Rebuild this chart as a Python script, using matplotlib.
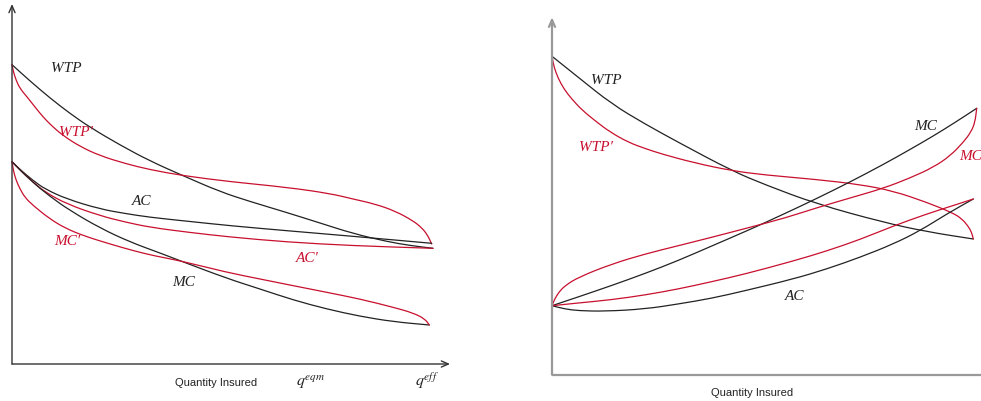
import matplotlib
matplotlib.use("Agg")
import matplotlib.pyplot as plt
from matplotlib.path import Path
from matplotlib.patches import PathPatch

plt.rcParams['mathtext.fontset'] = 'stix'

# ---------------- data: left panel (quantity, price in arbitrary units) ----------------
L_wtp_q = [0, 18, 38, 58, 78, 108, 138, 171, 208, 238, 274.7, 308, 341, 374.7, 398, 421]
L_wtp_p = [299.3, 283, 266, 250.5, 236.7, 219, 203, 188.3, 172.3, 162.5, 151.5, 141, 130.5, 122.5, 118.5, 115.7]

L_wtp2_q = [0, 1.5, 4, 8, 14.7, 23, 31.3, 41, 51.3, 68, 88, 113, 138, 171.3, 218, 274.7, 318, 341, 363, 383, 401, 410, 415.5, 419.7]
L_wtp2_p = [299.3, 292, 284, 275.5, 267.5, 257, 246.7, 237, 228.3, 217.5, 208.3, 200.5, 194.3, 188.3, 182.3, 176.7, 170.5, 165, 160, 153, 143.3, 136, 129, 120]

L_ac_q = [0, 8, 21.3, 33, 54.7, 88, 113, 138, 178, 218, 274.7, 341, 419.7]
L_ac_p = [202.3, 194.5, 183.3, 175, 165, 155, 150.5, 146.7, 142.5, 138.3, 133.3, 127.7, 120.7]

L_ac2_q = [0, 8, 21.3, 33, 54.7, 88, 113, 138, 178, 218, 274.7, 341, 421]
L_ac2_p = [202.3, 194, 181.7, 172, 160, 148.3, 142, 136.7, 131.5, 127, 122, 118.3, 115.7]

L_mc_q = [0, 18, 38, 58, 88, 118, 148, 168, 214.7, 248, 281.3, 314.7, 348, 381.3, 417.3]
L_mc_p = [202.3, 184, 167.5, 153.5, 136, 122, 111, 103.3, 85.7, 75, 64, 55, 47.7, 42.3, 39]

L_mc2_q = [0, 1.5, 4, 8, 13, 21.3, 38, 53, 71.3, 98, 121.3, 143, 168, 214.7, 248, 281.3, 314.7, 348, 381.3, 401.3, 413, 417.3]
L_mc2_p = [202.3, 193, 184, 175, 166.5, 158.3, 145, 136, 128.3, 120, 113.3, 108, 103.3, 91.7, 85, 78.3, 71.7, 65, 56.7, 51, 45, 39]

# ---------------- data: right panel ----------------
R_wtp_q = [0, 26.3, 59.7, 93, 126.3, 179.7, 213, 264.7, 331.3, 374.7, 421.3]
R_wtp_p = [318.4, 297.4, 270.7, 250.7, 232.4, 204, 190, 170.7, 152.4, 143, 135.7]

R_wtp2_q = [0, 2, 6, 12, 19.7, 30, 43, 58, 76.3, 93, 109.7, 143, 179.7, 213, 264.7, 308, 341.3, 374.7, 401, 410, 416, 419.5, 421.3]
R_wtp2_p = [318.4, 307.7, 296.7, 285.7, 275.7, 264.7, 254, 242.7, 232.4, 226.2, 220.7, 211.7, 204, 199.7, 195.2, 190.2, 183.7, 172.4, 161.7, 155.7, 148.7, 142.7, 135.7]

R_mc_q = [0, 26, 59.7, 93, 126.3, 159.7, 198, 233, 264.7, 298, 331.3, 358, 381.3, 403, 424.7]
R_mc_p = [69, 77.7, 89.2, 101.2, 114.2, 128.7, 145.2, 161.2, 176.2, 192.7, 210.2, 225.2, 238.7, 252.2, 266.4]

R_mc2_q = [0, 2.7, 7, 13, 26.3, 59.7, 93, 126.3, 159.7, 198, 233, 264.7, 298, 331.3, 358, 381.3, 398, 411.3, 419, 423, 424.7]
R_mc2_p = [69, 75.7, 82.7, 89, 97.4, 110.7, 120.7, 129, 137.4, 147.4, 156.7, 166.9, 176.7, 186.4, 196.7, 207.4, 218.7, 232.4, 242.7, 252.4, 266.4]

R_ac_q = [0, 13, 26.3, 53, 93, 126.3, 159.7, 193, 241.3, 274.7, 308, 341.3, 368, 394.7, 421.3]
R_ac_p = [69, 65.7, 64, 63.4, 65.7, 70.7, 76.4, 84, 95.7, 105.7, 117.4, 130.7, 144, 160.7, 175.7]

R_ac2_q = [0, 26.3, 59.7, 93, 126.3, 159.7, 193, 241.3, 274.7, 308, 341.3, 374.7, 401.3, 421.3]
R_ac2_p = [69, 71.7, 75, 79.7, 85.7, 93, 100.7, 113.7, 123.7, 135.2, 148.7, 160.7, 169.2, 175.7]

BLACK = '#222222'
RED = '#c8102e'
LW = 0.9


def smooth_curve(ax, q, p, color):
    """Draw a smooth (quadratic B-spline style) path through the read points."""
    pts = list(zip(q, p))
    verts = [pts[0]]
    codes = [Path.MOVETO]
    if len(pts) > 2:
        m = ((pts[0][0] + pts[1][0]) / 2, (pts[0][1] + pts[1][1]) / 2)
        verts.append(m); codes.append(Path.LINETO)
        for i in range(1, len(pts) - 1):
            nm = ((pts[i][0] + pts[i + 1][0]) / 2, (pts[i][1] + pts[i + 1][1]) / 2)
            verts += [pts[i], nm]
            codes += [Path.CURVE3, Path.CURVE3]
    verts.append(pts[-1]); codes.append(Path.LINETO)
    patch = PathPatch(Path(verts, codes), facecolor='none', edgecolor=color, lw=LW,
                      joinstyle='round', capstyle='round', clip_on=False)
    ax.add_patch(patch)


W, H = 981, 402
fig = plt.figure(figsize=(W / 100, H / 100), dpi=100)
fig.patch.set_facecolor('white')

axL = fig.add_axes([12 / W, (H - 365) / H, 440 / W, 361 / H])
axR = fig.add_axes([552 / W, (H - 375.7) / H, 429 / W, 357.7 / H])
axL.set_xlim(0, 440); axL.set_ylim(0, 361)
axR.set_xlim(0, 429); axR.set_ylim(0, 357.7)
for ax in (axL, axR):
    ax.set_axis_off()

arrow = '->,head_length=0.5,head_width=0.22'
axL.annotate('', xy=(438, 0), xytext=(0, 0),
             arrowprops=dict(arrowstyle=arrow, color='#333333', lw=1.0, shrinkA=0, shrinkB=0),
             annotation_clip=False)
axL.annotate('', xy=(0, 360), xytext=(0, 0),
             arrowprops=dict(arrowstyle=arrow, color='#333333', lw=1.0, shrinkA=0, shrinkB=0),
             annotation_clip=False)
axR.plot([0, 1], [0, 0], transform=axR.transAxes, color='#999999', lw=1.6, clip_on=False,
         solid_capstyle='butt')
axR.annotate('', xy=(0, 357.5), xytext=(0, 0),
             arrowprops=dict(arrowstyle=arrow, color='#999999', lw=1.6, shrinkA=0, shrinkB=0),
             annotation_clip=False)

for q, p, c in [(L_wtp_q, L_wtp_p, BLACK), (L_wtp2_q, L_wtp2_p, RED),
                (L_ac_q, L_ac_p, BLACK), (L_ac2_q, L_ac2_p, RED),
                (L_mc_q, L_mc_p, BLACK), (L_mc2_q, L_mc2_p, RED)]:
    smooth_curve(axL, q, p, c)

for q, p, c in [(R_wtp_q, R_wtp_p, BLACK), (R_wtp2_q, R_wtp2_p, RED),
                (R_mc_q, R_mc_p, BLACK), (R_mc2_q, R_mc2_p, RED),
                (R_ac_q, R_ac_p, BLACK), (R_ac2_q, R_ac2_p, RED)]:
    smooth_curve(axR, q, p, c)

serif = dict(family=['Liberation Serif', 'DejaVu Serif'], style='italic', fontsize=11,
             ha='center', va='center')

axL.text(54, 297, 'WTP', color=BLACK, **serif)
axL.text(64, 232, 'WTP′', color=RED, **serif)
axL.text(130, 163, 'AC', color=BLACK, **serif)
axL.text(55, 123, 'MC′', color=RED, **serif)
axL.text(295, 107, 'AC′', color=RED, **serif)
axL.text(172, 83, 'MC', color=BLACK, **serif)

axR.text(54, 294.7, 'WTP', color=BLACK, **serif)
axR.text(44, 227.7, 'WTP′', color=RED, **serif)
axR.text(374, 248.7, 'MC', color=BLACK, **serif)
axR.text(419, 218.7, 'MC', color=RED, clip_on=False, **serif)
axR.text(243, 78.7, 'AC', color=BLACK, **serif)

sans = dict(family=['Liberation Sans', 'DejaVu Sans'], fontsize=8, ha='center', va='center',
            color='#222222')
axL.text(203.7, -17.7, 'Quantity Insured', **sans)
axR.text(200.5, -17.3, 'Quantity Insured', **sans)

axL.text(299, -17, '$q^{eqm}$', fontsize=11.5, ha='center', va='center', color=BLACK)
axL.text(415, -16, '$q^{eff}$', fontsize=11.5, ha='center', va='center', color=BLACK)

fig.savefig('out.png', dpi=100, facecolor='white')
